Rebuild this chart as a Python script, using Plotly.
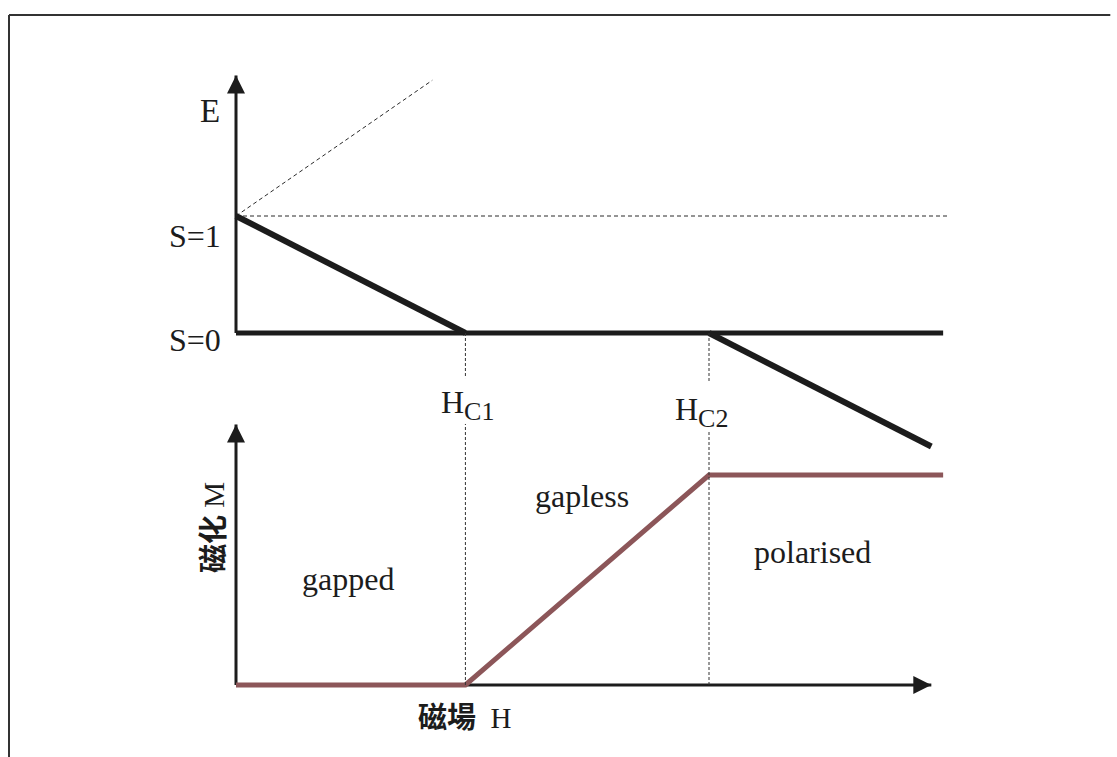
import plotly.graph_objects as go

# Field axis (arbitrary units): critical fields and the plotted extent
H_C1 = 0.97
H_C2 = 2.0
H_END = 2.99
H_ARROW = 2.94

# Energy levels (top panel)
singlet_H = [0.0, H_END]
singlet_E = [0.0, 0.0]
triplet_minus_H = [0.0, H_C1]
triplet_minus_E = [1.0, 0.0]
next_level_H = [H_C2, H_ARROW]
next_level_E = [0.0, -0.97]
triplet_zero_H = [0.0, 3.01]
triplet_zero_E = [1.0, 1.0]
triplet_plus_H = [0.0, 0.83]
triplet_plus_E = [1.0, 2.16]
E_TOP = 2.2

# Magnetisation curve (bottom panel)
mag_H = [0.0, H_C1, H_C2, H_END]
mag_M = [0.0, 0.0, 1.0, 1.0]
M_TOP = 1.24

BLACK = "#1c1c1c"
BROWN = "#8c5659"
SERIF = "Liberation Serif, Times New Roman, serif"
CJK = "Liberation Serif, Noto Sans CJK SC, serif"

fig = go.Figure()

def line(x, y, yaxis="y", color=BLACK, width=5, dash=None):
    fig.add_trace(go.Scatter(x=x, y=y, yaxis=yaxis, mode="lines",
                             line=dict(color=color, width=width, dash=dash),
                             hoverinfo="skip", showlegend=False))

# top panel: axis and levels
line([0, 0], [0, E_TOP], width=3)
line(triplet_plus_H, triplet_plus_E, color="#2a2a2a", width=1, dash="4px,3px")
line(triplet_zero_H, triplet_zero_E, color="#2a2a2a", width=1, dash="4px,3px")
line(singlet_H, singlet_E, width=5)
line(triplet_minus_H, triplet_minus_E, width=6)
line(next_level_H, next_level_E, width=6)

# bottom panel: axes and magnetisation
line([0, 0], [0, M_TOP], yaxis="y2", width=3)
line([0, H_ARROW], [0, 0], yaxis="y2", width=3)
line(mag_H, mag_M, yaxis="y2", color=BROWN, width=5)

# arrowheads on the axes
for x, y, yref, ax, ay in [(0, E_TOP, "y", 0, 12), (0, M_TOP, "y2", 0, 12),
                           (H_ARROW, 0, "y2", -12, 0)]:
    fig.add_annotation(x=x, y=y, xref="x", yref=yref, ax=ax, ay=ay, text="",
                       showarrow=True, arrowhead=2, arrowsize=1.2,
                       arrowwidth=3, arrowcolor=BLACK)

# dotted markers at the critical fields (broken around the labels)
for hc, e_gap, m_gap in [(H_C1, -0.385, 1.243), (H_C2, -0.427, 1.205)]:
    fig.add_shape(type="line", xref="x", yref="y", x0=hc, x1=hc, y0=0, y1=e_gap,
                  line=dict(color="#333333", width=1, dash="3px,2px"))
    fig.add_shape(type="line", xref="x", yref="y2", x0=hc, x1=hc, y0=0, y1=m_gap,
                  line=dict(color="#333333", width=1, dash="3px,2px"))

# frame (open on the right and bottom)
fig.add_shape(type="line", xref="paper", yref="paper",
              x0=0.00806, x1=0.00806, y0=0.0, y1=0.9802,
              line=dict(color="#333333", width=2))
fig.add_shape(type="line", xref="paper", yref="paper",
              x0=0.00806, x1=0.994, y0=0.9802, y1=0.9802,
              line=dict(color="#333333", width=2))

def text(t, x, y, yref="y", size=32, family=SERIF, xanchor="center",
         yshift=0, textangle=0, xref="x"):
    fig.add_annotation(x=x, y=y, xref=xref, yref=yref, text=t, showarrow=False,
                       font=dict(family=family, size=size, color=BLACK),
                       xanchor=xanchor, yanchor="middle", yshift=yshift,
                       textangle=textangle)

SUB = '<sub><span style="font-size:26px">{}</span></sub>'

text("E", -0.11, 1.897, size=33)
text("S=1", -0.055, 1.0, xanchor="right", yshift=-20)
text("S=0", -0.055, 0.0, xanchor="right", yshift=-7)
text("H" + SUB.format("C1"), H_C1 + 0.01, 1 - 405 / 757, yref="paper")
text("H" + SUB.format("C2"), H_C2 - 0.03, 1 - 412 / 757, yref="paper")
text("gapped", 0.474, 0.505, yref="y2")
text("gapless", 1.463, 0.90, yref="y2")
text("polarised", 2.436, 0.633, yref="y2")
text("<b>磁化</b> M", -0.093, 0.748, yref="y2", size=29, family=CJK, textangle=-90)
text("<b>磁場</b>  H", 0.97, -0.157, yref="y2", size=29, family=CJK)

fig.update_layout(
    width=1117, height=757,
    margin=dict(l=0, r=0, t=0, b=0),
    paper_bgcolor="white", plot_bgcolor="white",
    xaxis=dict(range=[-236 / 236.5, 881 / 236.5], visible=False, domain=[0, 1]),
    yaxis=dict(range=[(333 - 757) / 117, 333 / 117], visible=False, domain=[0, 1]),
    yaxis2=dict(range=[(685 - 757) / 210, 685 / 210], visible=False,
                overlaying="y", domain=[0, 1]),
)

fig.write_html("out.html")
